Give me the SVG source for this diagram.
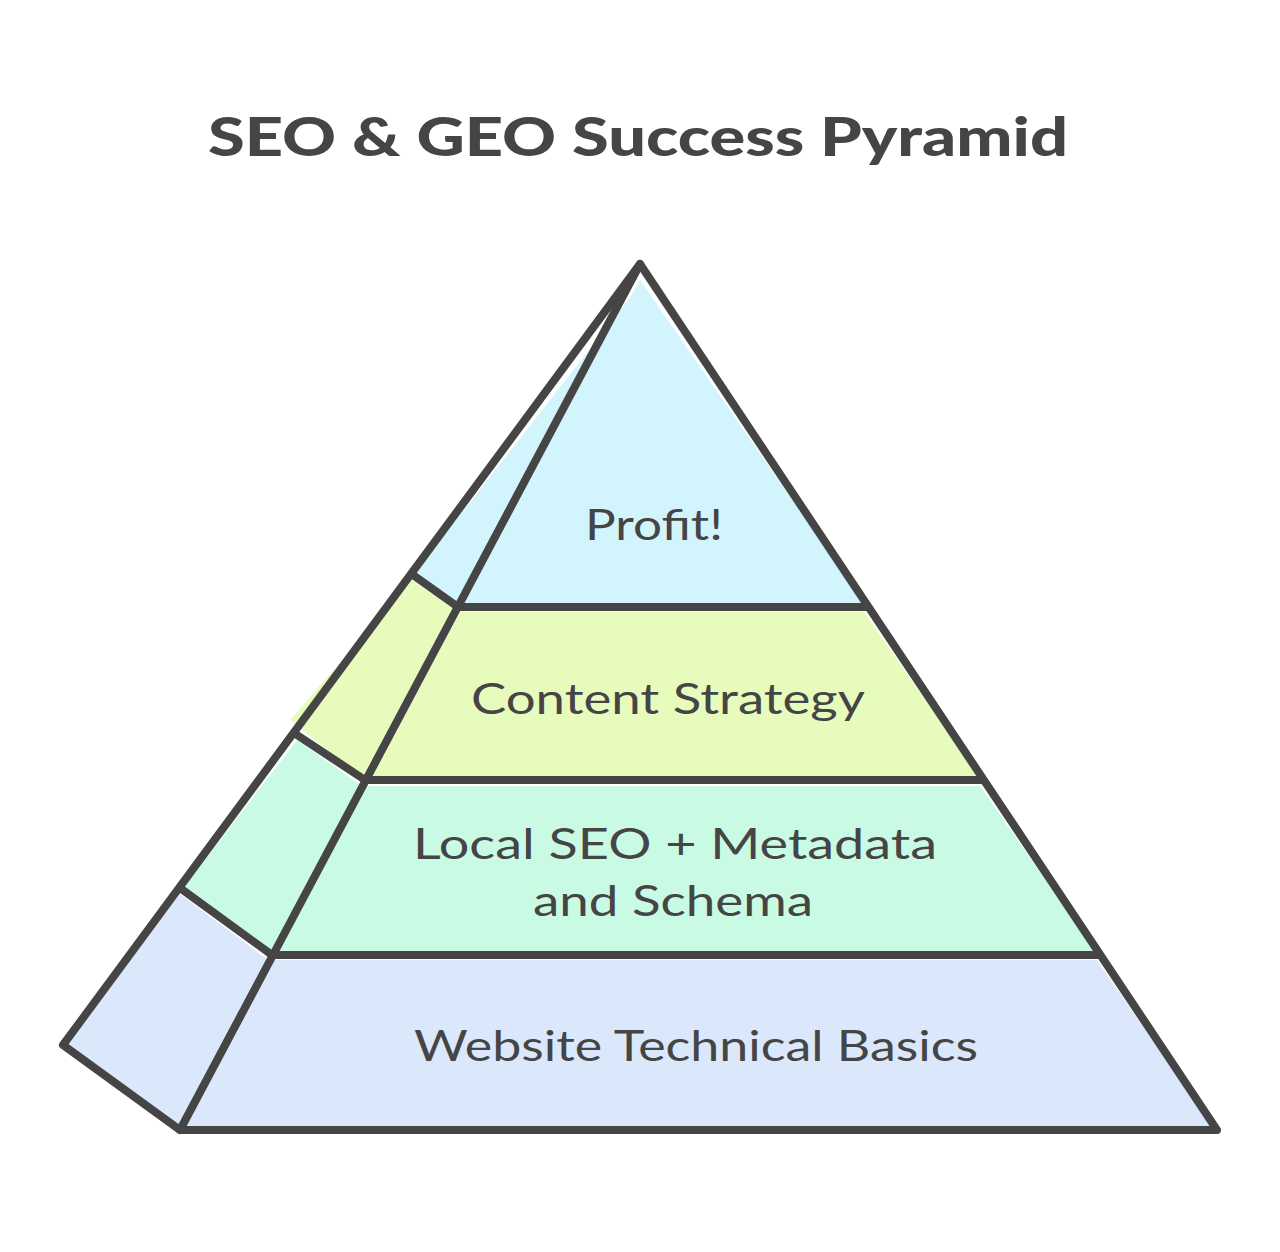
<svg xmlns="http://www.w3.org/2000/svg" width="1280" height="1252" viewBox="0 0 1280 1252">
<style>
.edge{fill:none;stroke:#454545;stroke-width:8;stroke-linecap:round;stroke-linejoin:round}
.lbl{font-family:"Lato","Noto Sans",sans-serif;font-size:42px;fill:#454545;text-anchor:middle}
.title{font-family:"Lato","Noto Sans",sans-serif;font-size:54px;font-weight:900;fill:#454545;text-anchor:middle}
.c1{fill:#d2f4fc}.c2{fill:#e7fbbd}.c3{fill:#c9fbe4}.c4{fill:#dbe8fb}
</style>
<rect width="1280" height="1252" fill="#ffffff"/>
<text class="title" x="638" y="156" textLength="860" lengthAdjust="spacingAndGlyphs">SEO &amp; GEO Success Pyramid</text>
<g id="tier-profit">
<polygon class="c1" points="636,290 411,578 456,610"/>
<polygon class="c1" points="640,280 458,607 866,607"/>
<text class="lbl" x="654" y="540" textLength="138" lengthAdjust="spacingAndGlyphs">Profit!</text>
</g>
<g id="tier-content">
<polygon class="c2" points="412,580 290,720 362,778 458,612"/>
<polygon class="c2" points="458,612 369,776 978,776 864,612"/>
<text class="lbl" x="668" y="714" textLength="394" lengthAdjust="spacingAndGlyphs">Content Strategy</text>
</g>
<g id="tier-local">
<polygon class="c3" points="297,740 182,890 270,952 362,786"/>
<polygon class="c3" points="364,786 276,951 1095,951 980,786"/>
<text class="lbl" x="675" y="859" textLength="524" lengthAdjust="spacingAndGlyphs">Local SEO + Metadata</text>
<text class="lbl" x="673" y="916" textLength="280" lengthAdjust="spacingAndGlyphs">and Schema</text>
</g>
<g id="tier-website">
<polygon class="c4" points="180,894 66,1045 180,1127 268,960"/>
<polygon class="c4" points="272,960 184,1127 1212,1127 1097,960"/>
<text class="lbl" x="696" y="1061" textLength="564" lengthAdjust="spacingAndGlyphs">Website Technical Basics</text>
</g>
<g id="connectors">
<path class="edge" d="M640,264 L63,1045 L180,1130 L1217,1130 Z"/>
<path class="edge" d="M640,264 L180,1130"/>
<path class="edge" d="M413,575 L458,607 L866,607"/>
<path class="edge" d="M297,735 L365,780 L982,780"/>
<path class="edge" d="M180,888 L272,955 L1099,955"/>
</g>
</svg>
